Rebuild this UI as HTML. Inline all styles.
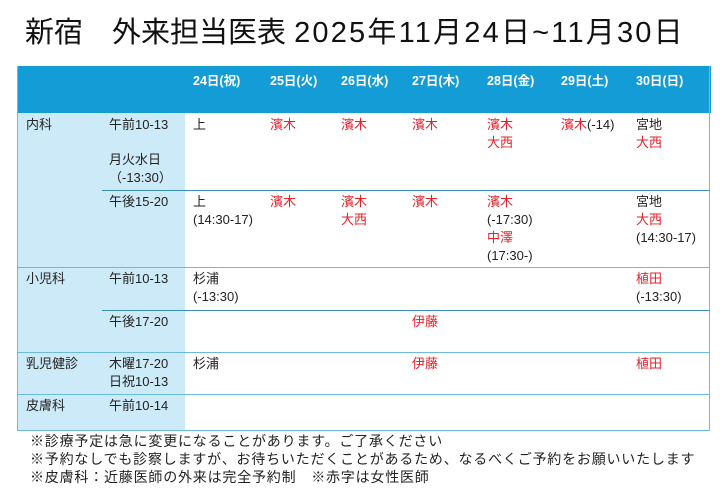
<!DOCTYPE html>
<html><head><meta charset="utf-8"><style>
body{margin:0;width:720px;height:498px;background:#fff;position:relative;overflow:hidden;font-family:"Liberation Sans","Noto Sans CJK JP",sans-serif;color:#222}
.a{position:absolute;white-space:nowrap}
.t{font-size:13px;line-height:18px}
.r{color:#e8202a}
.h{color:#fff;font-weight:bold;font-size:12.5px}
.ln{position:absolute;height:1px;background:#6bbbe0}
</style></head><body>
<div class="a" style="left:25px;top:14px;font-size:29px;line-height:38px;color:#111">新宿　外来担当医表 <span style="letter-spacing:2.2px">2025年11月24日~11月30日</span></div>
<div class="a" style="left:17px;top:66px;width:694px;height:47px;background:#149cd6"></div>
<div class="a" style="left:17px;top:113px;width:168px;height:318px;background:#cdeaf8"></div>
<div class="a" style="left:17px;top:66px;width:693px;height:365px;border:1px solid #6bbbe0;border-top:none;box-sizing:border-box"></div>
<div class="ln" style="left:102px;top:190px;width:608px;background:#3a8fb8"></div>
<div class="ln" style="left:17px;top:267px;width:693px"></div>
<div class="ln" style="left:102px;top:310px;width:608px;background:#3a8fb8"></div>
<div class="ln" style="left:17px;top:352px;width:693px"></div>
<div class="ln" style="left:17px;top:394px;width:693px"></div>
<div class="ln" style="left:17px;top:430px;width:693px"></div>

<div class="a h" style="left:193px;top:70px">24日(祝)</div>
<div class="a h" style="left:270px;top:70px">25日(火)</div>
<div class="a h" style="left:341px;top:70px">26日(水)</div>
<div class="a h" style="left:412px;top:70px">27日(木)</div>
<div class="a h" style="left:487px;top:70px">28日(金)</div>
<div class="a h" style="left:561px;top:70px">29日(土)</div>
<div class="a h" style="left:636px;top:70px">30日(日)</div>

<div class="a t" style="left:26px;top:116px">内科</div>
<div class="a t" style="left:109px;top:116px">午前10-13</div>
<div class="a t" style="left:109px;top:151px">月火水日<br>（-13:30）</div>
<div class="a t" style="left:193px;top:116px">上</div>
<div class="a t r" style="left:270px;top:116px">濱木</div>
<div class="a t r" style="left:341px;top:116px">濱木</div>
<div class="a t r" style="left:412px;top:116px">濱木</div>
<div class="a t r" style="left:487px;top:116px">濱木<br>大西</div>
<div class="a t" style="left:561px;top:116px"><span class="r">濱木</span>(-14)</div>
<div class="a t" style="left:636px;top:116px">宮地<br><span class="r">大西</span></div>

<div class="a t" style="left:109px;top:193px">午後15-20</div>
<div class="a t" style="left:193px;top:193px">上<br>(14:30-17)</div>
<div class="a t r" style="left:270px;top:193px">濱木</div>
<div class="a t r" style="left:341px;top:193px">濱木<br>大西</div>
<div class="a t r" style="left:412px;top:193px">濱木</div>
<div class="a t" style="left:487px;top:193px"><span class="r">濱木</span><br>(-17:30)<br><span class="r">中澤</span><br>(17:30-)</div>
<div class="a t" style="left:636px;top:193px">宮地<br><span class="r">大西</span><br>(14:30-17)</div>

<div class="a t" style="left:26px;top:270px">小児科</div>
<div class="a t" style="left:109px;top:270px">午前10-13</div>
<div class="a t" style="left:193px;top:270px">杉浦<br>(-13:30)</div>
<div class="a t" style="left:636px;top:270px"><span class="r">植田</span><br>(-13:30)</div>
<div class="a t" style="left:109px;top:313px">午後17-20</div>
<div class="a t r" style="left:412px;top:313px">伊藤</div>

<div class="a t" style="left:26px;top:355px">乳児健診</div>
<div class="a t" style="left:109px;top:355px">木曜17-20<br>日祝10-13</div>
<div class="a t" style="left:193px;top:355px">杉浦</div>
<div class="a t r" style="left:412px;top:355px">伊藤</div>
<div class="a t r" style="left:636px;top:355px">植田</div>

<div class="a t" style="left:26px;top:397px">皮膚科</div>
<div class="a t" style="left:109px;top:397px">午前10-14</div>

<div class="a" style="left:30px;top:432px;font-size:14px;line-height:18px;letter-spacing:0.8px;color:#222">※診療予定は急に変更になることがあります。ご了承ください<br>※予約なしでも診察しますが、お待ちいただくことがあるため、なるべくご予約をお願いいたします<br>※皮膚科：近藤医師の外来は完全予約制　※赤字は女性医師</div>
</body></html>
